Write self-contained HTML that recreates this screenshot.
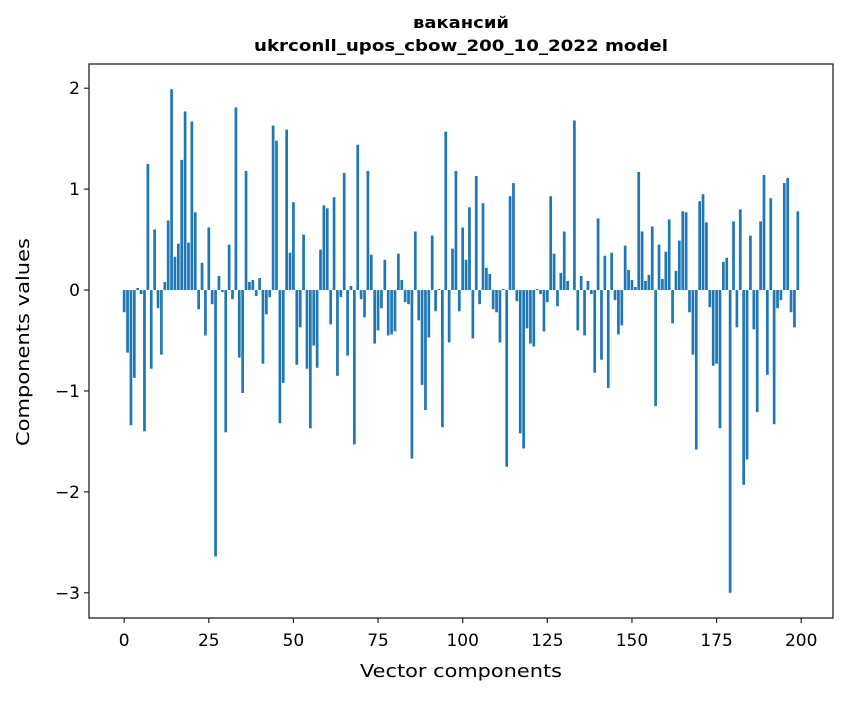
<!DOCTYPE html>
<html><head><meta charset="utf-8"><style>
body{margin:0;background:#fff}
svg text{font-family:"DejaVu Sans","Liberation Sans",sans-serif;fill:#000}
</style></head><body>
<svg id="chart" width="847" height="696" xmlns="http://www.w3.org/2000/svg">
<rect width="847" height="696" fill="#fff"/>
<text x="461" y="28" text-anchor="middle" font-size="16" font-weight="bold" textLength="96" lengthAdjust="spacingAndGlyphs">вакансий</text>
<text x="461" y="51" text-anchor="middle" font-size="16" font-weight="bold" textLength="414" lengthAdjust="spacingAndGlyphs">ukrconll_upos_cbow_200_10_2022 model</text>
<g id="bars"></g>
<g id="xticks"></g>
<g id="yticks"></g>
<rect x="89" y="64" width="744" height="554" fill="none" stroke="#222" stroke-width="1.3"/>
<text x="461" y="677" text-anchor="middle" font-size="18" textLength="202" lengthAdjust="spacingAndGlyphs">Vector components</text>
<text transform="translate(29,342) rotate(-90)" text-anchor="middle" font-size="18" textLength="208" lengthAdjust="spacingAndGlyphs">Components values</text>
</svg>
<script>
const values = [-0.22,-0.62,-1.34,-0.87,0.02,-0.04,-1.40,1.25,-0.78,0.60,
-0.18,-0.64,0.08,0.69,1.99,0.33,0.46,1.29,1.77,0.47,
1.67,0.77,-0.19,0.27,-0.45,0.62,-0.14,-2.64,0.14,-0.02,
-1.41,0.45,-0.09,1.81,-0.67,-1.02,1.18,0.08,0.10,-0.06,
0.12,-0.73,-0.24,-0.07,1.63,1.48,-1.32,-0.92,1.59,0.37,
0.87,-0.74,-0.37,0.55,-0.78,-1.37,-0.55,-0.77,0.40,0.84,
0.81,-0.34,0.92,-0.85,-0.07,1.16,-0.65,0.04,-1.53,1.44,
-0.09,-0.27,1.18,0.35,-0.53,-0.40,-0.18,0.30,-0.45,-0.44,
-0.41,0.36,0.10,-0.12,-0.14,-1.67,0.58,-0.30,-0.94,-1.19,
-0.47,0.54,-0.21,0.01,-1.36,1.57,-0.52,0.41,1.18,-0.21,
0.62,0.30,0.82,-0.48,1.13,-0.14,0.86,0.22,0.16,-0.19,
-0.22,-0.52,0.01,-1.75,0.93,1.06,-0.11,-1.42,-1.57,-0.38,
-0.53,-0.56,0.01,-0.04,-0.41,-0.12,0.93,0.36,-0.16,0.17,
0.58,0.09,0.00,1.68,-0.40,0.14,-0.45,0.09,-0.04,-0.82,
0.71,-0.69,0.34,-0.97,0.37,-0.10,-0.44,-0.35,0.44,0.20,
0.10,0.03,1.17,0.58,0.09,0.15,0.63,-1.15,0.45,0.11,
0.38,0.70,-0.33,0.19,0.49,0.78,0.77,-0.22,-0.64,-1.58,
0.88,0.95,0.67,-0.17,-0.75,-0.73,-1.37,0.28,0.32,-3.00,
0.68,-0.37,0.80,-1.93,-1.68,0.54,-0.39,-1.21,0.68,1.14,
-0.84,0.91,-1.33,-0.18,-0.10,1.06,1.11,-0.22,-0.37,0.78];
const xTickValues = [0,25,50,75,100,125,150,175,200];
const xTickLabels = ["0","25","50","75","100","125","150","175","200"];
const yTickValues = [-3,-2,-1,0,1,2];
const yTickLabels = ["\u22123","\u22122","\u22121","0","1","2"];

const NS="http://www.w3.org/2000/svg";
const X0=89,X1=833,Y0=64,Y1=618;
const xMin=-10.39,xMax=209.39,yMin=-3.25,yMax=2.24;
function xs(v){return X0+(v-xMin)/(xMax-xMin)*(X1-X0);}
function ys(v){return Y1-(v-yMin)/(yMax-yMin)*(Y1-Y0);}
const gb=document.getElementById('bars');
values.forEach((v,i)=>{
  const r=document.createElementNS(NS,'rect');
  
  
  const xl=xs(i-0.4), xr=xs(i+0.4);
  const yt=ys(Math.max(v,0)), yb=ys(Math.min(v,0));
  r.setAttribute('x',xl);r.setAttribute('width',xr-xl);
  r.setAttribute('y',yt);r.setAttribute('height',Math.max(yb-yt,0));
  r.setAttribute('fill','#1f77b4');
  gb.appendChild(r);
});
const gx=document.getElementById('xticks');
xTickValues.forEach((t,k)=>{
  const l=document.createElementNS(NS,'line');
  
  
  l.setAttribute('x1',xs(t));l.setAttribute('x2',xs(t));l.setAttribute('y1',Y1);l.setAttribute('y2',Y1+5);
  l.setAttribute('stroke','#222');l.setAttribute('stroke-width','1.2');
  gx.appendChild(l);
  const tx=document.createElementNS(NS,'text');
  
  
  tx.setAttribute('x',xs(t));tx.setAttribute('y',Y1+28);
  tx.setAttribute('text-anchor','middle');tx.setAttribute('font-size','17');
  tx.textContent=xTickLabels[k];
  gx.appendChild(tx);
});
const gy=document.getElementById('yticks');
yTickValues.forEach((t,k)=>{
  const l=document.createElementNS(NS,'line');
  
  
  l.setAttribute('x1',X0-5);l.setAttribute('x2',X0);l.setAttribute('y1',ys(t));l.setAttribute('y2',ys(t));
  l.setAttribute('stroke','#222');l.setAttribute('stroke-width','1.2');
  gy.appendChild(l);
  const tx=document.createElementNS(NS,'text');
  
  
  tx.setAttribute('x',X0-9);tx.setAttribute('y',ys(t)+6);
  tx.setAttribute('text-anchor','end');tx.setAttribute('font-size','17');
  tx.textContent=yTickLabels[k];
  gy.appendChild(tx);
});
</script>
</body></html>
